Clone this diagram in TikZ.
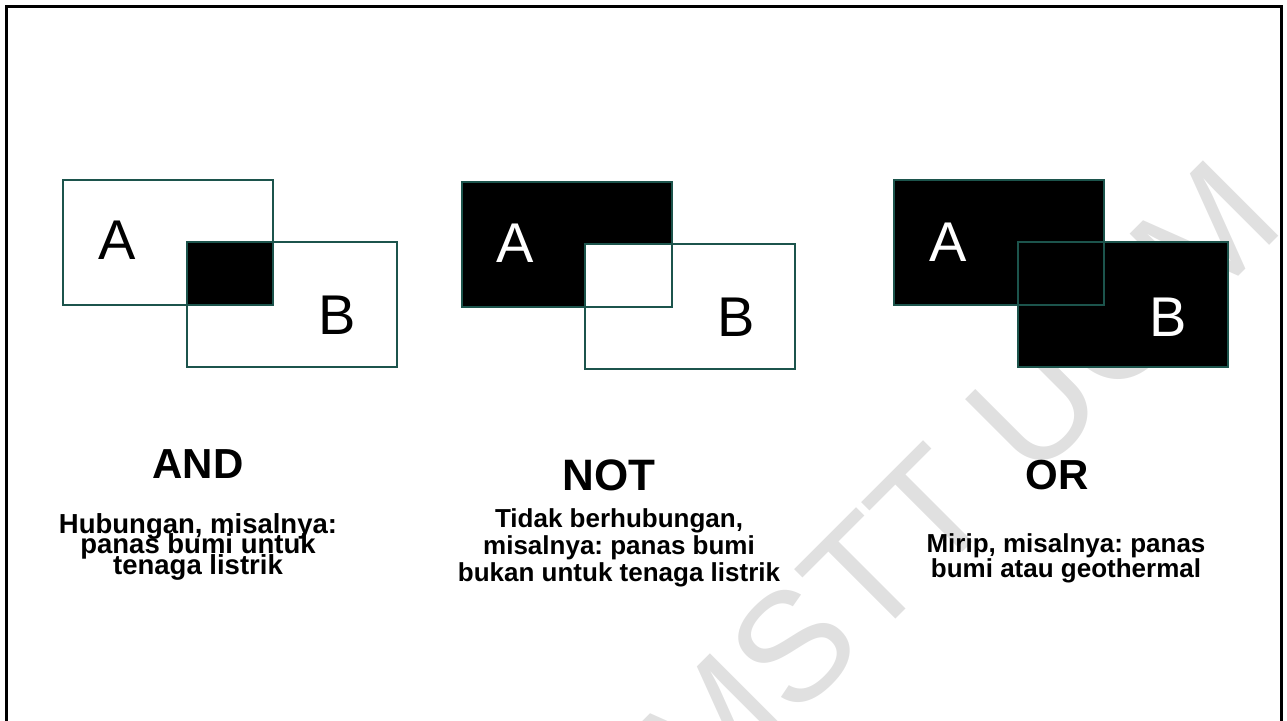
\documentclass[tikz,border=0pt]{standalone}
\usepackage{fontspec}
\setmainfont{Liberation Sans}
\definecolor{edge}{RGB}{28,84,76}
\newcommand\tightlead{\lineskiplimit=-50pt\relax\lineskip=0pt\relax}
\frenchspacing
\begin{document}
\frenchspacing
\begin{tikzpicture}[x=1pt,y=-1pt,
  box/.style={draw=edge,line width=1.6pt,minimum width=210pt,minimum height=125pt,anchor=north west,inner sep=0pt,outer sep=0pt},
  lab/.style={font=\fontsize{56}{56}\selectfont,inner sep=0pt},
  ttl/.style={font=\bfseries\fontsize{42}{42}\selectfont,anchor=base,inner sep=0pt},
  desc/.style={align=center,anchor=north,inner sep=0pt},
  outline/.style={draw=edge,line width=1.6pt}
]
\useasboundingbox (0,0) rectangle (1287,720);
\begin{scope}
\clip (0,0) rectangle (1287,720);
\node[rotate=45,text=black!12,font=\fontsize{155}{155}\selectfont,inner sep=0pt] (wm) at (958,482) {MSTT UGM};
\end{scope}
\draw[line width=3pt] (6,740) -- (6,6) -- (1281,6) -- (1281,740);

% AND
\node[box] (andA) at (63,180) {};
\node[box] (andB) at (187,242) {};
\fill[black] (andB.north west) rectangle (andA.south east);
\draw[outline] (andB.north west) rectangle (andA.south east);
\node[lab] (andLa) at (117,240) {A};
\node[lab] (andLb) at (337,315) {B};
\node[ttl] (andT) at (198,478) {AND};
\node[desc,font=\bfseries\fontsize{27.5}{20.5}\selectfont\tightlead\frenchspacing] (andD) at (198,513) {Hubungan, misalnya:\\panas bumi untuk\\tenaga listrik};

% NOT
\node[box,fill=black] (notA) at (462,182) {};
\node[box,fill=white] (notB) at (585,244) {};
\draw[outline] (notA.north west) rectangle (notA.south east);
\node[lab,text=white] (notLa) at (515,243) {A};
\node[lab] (notLb) at (736,317) {B};
\node[ttl,font=\bfseries\fontsize{44}{44}\selectfont] (notT) at (609,490) {NOT};
\node[desc,font=\bfseries\fontsize{26}{27}\selectfont\frenchspacing] (notD) at (619,508) {Tidak berhubungan,\\misalnya: panas bumi\\bukan untuk tenaga listrik};

% OR
\node[box,fill=black] (orA) at (894,180) {};
\node[box,fill=black] (orB) at (1018,242) {};
\draw[outline] (orA.north west) rectangle (orA.south east);
\node[lab,text=white] (orLa) at (948,242) {A};
\node[lab,text=white] (orLb) at (1168,317) {B};
\node[ttl] (orT) at (1057,489) {OR};
\node[desc,font=\bfseries\fontsize{26}{25}\selectfont\frenchspacing] (orD) at (1066,533) {Mirip, misalnya: panas\\bumi atau geothermal};
\end{tikzpicture}
\end{document}
